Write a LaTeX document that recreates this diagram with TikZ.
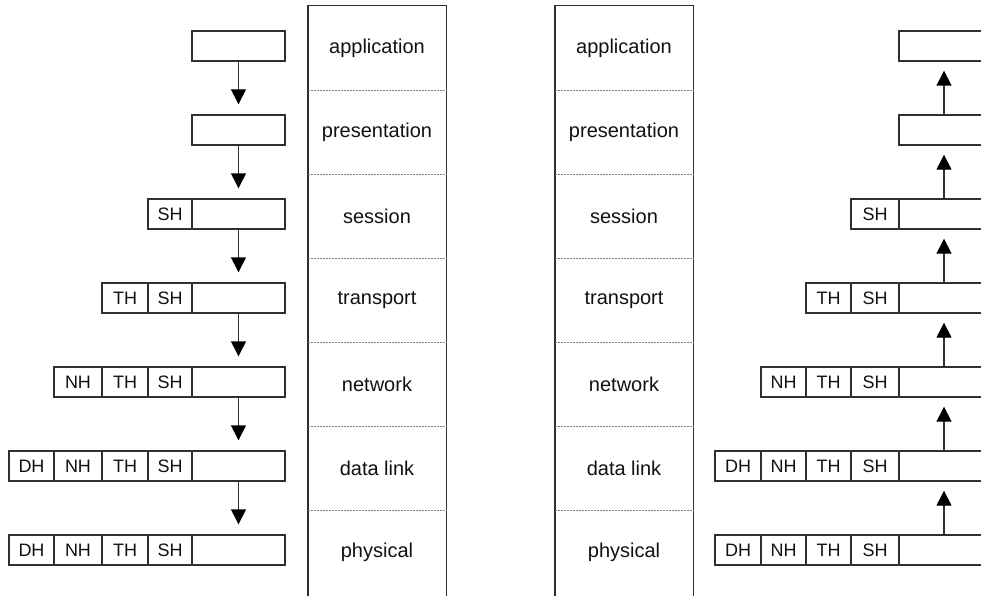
\documentclass[tikz,border=0pt]{standalone}
\usepackage{fontspec}
\setmainfont{Liberation Sans}
\usetikzlibrary{arrows.meta}

\definecolor{edge}{HTML}{303030}
\definecolor{ink}{HTML}{111111}
\definecolor{rule}{HTML}{808080}

\tikzset{
  cell/.style={draw=edge, line width=1.4pt, minimum height=30pt, inner sep=0pt,
    text=ink, font=\fontsize{18}{18}\selectfont},
  layer/.style={minimum width=138pt, minimum height=84pt, inner sep=0pt,
    text=ink, font=\fontsize{20}{20}\selectfont},
  frame/.style={draw=edge, line width=1.4pt},
  divider/.style={draw=rule, line width=1pt, dash pattern=on 2pt off 1pt},
  flow/.style={draw=edge, line width=1.4pt,
    -{Triangle[width=15pt,length=15pt,fill=black,color=black]}},
}

\begin{document}
\begin{tikzpicture}[x=1pt, y=-1pt]
\useasboundingbox (0,0) rectangle (981,596);
\clip (0,0) rectangle (981,596);

% ---------- left layer stack ----------
\node[layer] (La1) at (377,48)  {application};
\node[layer] (La2) at (377,132) {presentation};
\node[layer] (La3) at (377,216) {session};
\node[layer] (La4) at (377,300) {transport};
\node[layer] (La5) at (377,384) {network};
\node[layer] (La6) at (377,468) {data link};
\node[layer] (La7) at (377,552) {physical};
\draw[frame] ([yshift=-10pt]La7.south west) -- (La1.north west) -- (La1.north east) -- ([yshift=-10pt]La7.south east);
\foreach \i in {1,...,6} \draw[divider] (La\i.south west) -- (La\i.south east);

% ---------- right layer stack ----------
\node[layer] (Ra1) at (624,48)  {application};
\node[layer] (Ra2) at (624,132) {presentation};
\node[layer] (Ra3) at (624,216) {session};
\node[layer] (Ra4) at (624,300) {transport};
\node[layer] (Ra5) at (624,384) {network};
\node[layer] (Ra6) at (624,468) {data link};
\node[layer] (Ra7) at (624,552) {physical};
\draw[frame] ([yshift=-10pt]Ra7.south west) -- (Ra1.north west) -- (Ra1.north east) -- ([yshift=-10pt]Ra7.south east);
\foreach \i in {1,...,6} \draw[divider] (Ra\i.south west) -- (Ra\i.south east);

% ---------- left packets (sender, going down) ----------
\foreach \i/\y in {1/46,2/130,3/214,4/298,5/382,6/466,7/550}
  \node[cell, minimum width=93pt] (Ld\i) at (238.5,\y) {};
\foreach \i/\y in {3/214,4/298,5/382,6/466,7/550}
  \node[cell, minimum width=44pt] (Ls\i) at (170,\y) {SH};
\foreach \i/\y in {4/298,5/382,6/466,7/550}
  \node[cell, minimum width=46pt] (Lt\i) at (125,\y) {TH};
\foreach \i/\y in {5/382,6/466,7/550}
  \node[cell, minimum width=48pt] (Ln\i) at (78,\y) {NH};
\foreach \i/\y in {6/466,7/550}
  \node[cell, minimum width=45pt] (Lh\i) at (31.5,\y) {DH};

\foreach \i [evaluate=\i as \j using int(\i+1)] in {1,...,6}
  \draw[flow, shorten >=10pt] (Ld\i.south) -- (Ld\j.north);

% ---------- right packets (receiver, going up) ----------
\foreach \i/\y in {1/46,2/130,3/214,4/298,5/382,6/466,7/550}
  \node[cell, minimum width=90pt] (Rd\i) at (944,\y) {};
\foreach \i/\y in {3/214,4/298,5/382,6/466,7/550}
  \node[cell, minimum width=48pt] (Rs\i) at (875,\y) {SH};
\foreach \i/\y in {4/298,5/382,6/466,7/550}
  \node[cell, minimum width=45pt] (Rt\i) at (828.5,\y) {TH};
\foreach \i/\y in {5/382,6/466,7/550}
  \node[cell, minimum width=45pt] (Rn\i) at (783.5,\y) {NH};
\foreach \i/\y in {6/466,7/550}
  \node[cell, minimum width=46pt] (Rh\i) at (738,\y) {DH};

\foreach \i [evaluate=\i as \j using int(\i+1)] in {1,...,6}
  \draw[flow, shorten >=9pt] (Rd\j.north) -- (Rd\i.south);
\end{tikzpicture}
\end{document}
